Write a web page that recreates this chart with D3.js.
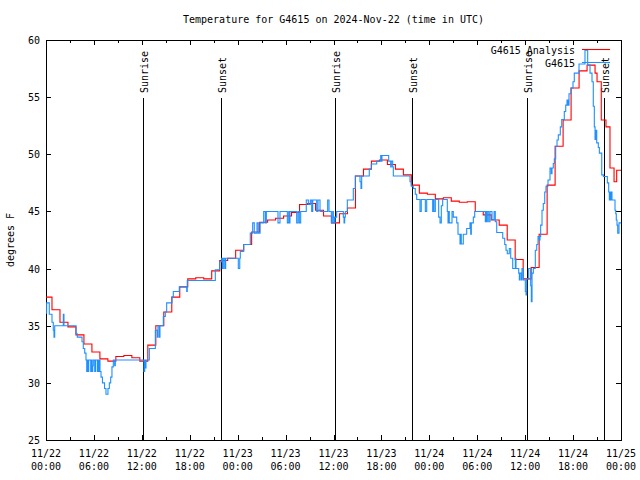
<!DOCTYPE html>
<html><head><meta charset="utf-8">
<script src="https://cdn.jsdelivr.net/npm/d3@7"></script>
<style>
body{margin:0;background:#fff}
svg{display:block}
text{font-family:"DejaVu Sans Mono","Liberation Mono",monospace;font-size:10px;fill:#000}
</style>
</head><body><svg id="chart" width="640" height="480"></svg>
<script>
const title = "Temperature for G4615 on 2024-Nov-22 (time in UTC)";
const yLabel = "degrees F";
const yTicks = [25, 30, 35, 40, 45, 50, 55, 60];
const xTickHours = [0, 6, 12, 18, 24, 30, 36, 42, 48, 54, 60, 66, 72];
const xTickDates = ["11/22","11/22","11/22","11/22","11/23","11/23","11/23","11/23","11/24","11/24","11/24","11/24","11/25"];
const xTickTimes = ["00:00","06:00","12:00","18:00","00:00","06:00","12:00","18:00","00:00","06:00","12:00","18:00","00:00"];
const xMinorHours = [3, 9, 15, 21, 27, 33, 39, 45, 51, 57, 63, 69];
const sunEvents = ["Sunrise","Sunset","Sunrise","Sunset","Sunrise","Sunset"];
const sunHours = [12.15, 21.91, 36.19, 45.83, 60.23, 69.87];
const seriesNames = ["G4615 Analysis", "G4615"];
const seriesColors = ["#ff0000", "#1e90ff"];

// Analysis (red): hours since 11/22 00:00 UTC, degrees F
const redTimes = [0, 0.75, 1.75, 2.75, 3.75, 4.75, 5.75, 6.75, 7.75, 8.75,
  9.75, 10.75, 11.75, 12.75, 13.75, 14.75, 15.75, 16.75, 17.75, 18.75,
  19.75, 20.75, 21.75, 22.75, 23.75, 24.75, 25.75, 26.75, 27.75, 28.75,
  29.75, 30.75, 31.75, 32.75, 33.75, 34.75, 35.75, 36.75, 37.75, 38.75,
  39.75, 40.75, 41.75, 42.75, 43.75, 44.75, 45.75, 46.75, 47.75, 48.75,
  49.75, 50.75, 51.75, 52.75, 53.75, 54.75, 55.75, 56.75, 57.75, 58.75,
  59.75, 60.75, 61.75, 62.75, 63.75, 64.75, 65.75, 66.75, 67.75, 68.75,
  69.0, 69.53, 70.12, 70.62, 71.13, 71.46];
const redTemps = [37.5, 36.4, 35.3, 34.9, 34.2, 33.4, 32.7, 32.1, 31.9, 32.3,
  32.4, 32.2, 31.9, 33.3, 35.0, 36.2, 37.5, 38.4, 39.1, 39.2,
  39.1, 39.8, 40.7, 40.9, 41.6, 42.1, 43.2, 44.05, 44.25, 44.4,
  44.6, 44.9, 45.6, 45.7, 45.1, 44.6, 44.0, 44.8, 45.3, 48.1,
  48.7, 49.4, 49.5, 49.1, 48.7, 48.2, 47.3, 46.6, 46.5, 46.1,
  46.2, 45.9, 45.8, 45.85, 45.0, 44.7, 44.25, 43.8, 42.5, 40.8,
  39.1, 40.1, 43.0, 47.3, 50.7, 53.0, 55.8, 57.3, 57.8, 57.1,
  56.35, 53.0, 52.4, 48.8, 47.6, 48.6];

// Observations (blue): hours since 11/22 00:00 UTC, degrees F
const blueTimes = [0.00,0.08,0.41,0.75,0.91,1.00,1.09,2.17,2.25,3.76,
  3.92,4.51,4.67,4.85,5.01,5.10,5.18,5.26,5.35,5.60,
  5.68,5.76,5.85,5.92,6.10,6.19,6.42,6.51,6.60,6.67,
  6.76,6.89,7.07,7.33,7.51,7.76,7.93,8.10,8.26,8.43,
  8.60,8.68,12.27,12.36,12.43,12.52,12.94,13.69,13.94,14.02,
  14.19,14.27,14.69,14.94,15.11,15.78,15.94,16.69,17.62,17.69,
  21.20,21.75,22.00,22.08,22.20,22.38,22.50,24.08,24.26,24.33,
  24.76,25.58,25.88,26.08,26.42,26.58,26.80,27.26,27.46,27.59,
  29.05,29.30,30.22,30.39,30.47,30.55,31.39,31.56,31.72,31.89,
  32.59,32.85,33.10,33.27,33.40,33.90,34.06,34.31,35.27,35.44,
  35.73,35.90,35.98,36.06,36.19,36.40,37.23,37.32,37.40,37.48,
  37.73,38.48,38.73,39.32,39.44,39.53,40.48,40.73,41.41,41.91,
  41.99,42.07,42.91,43.16,43.24,43.41,43.49,45.58,45.74,45.99,
  46.24,46.42,46.83,46.99,47.50,47.67,48.42,48.50,48.58,48.75,
  49.17,49.34,49.50,49.67,50.25,50.34,50.42,50.50,50.84,51.00,
  51.43,51.59,51.84,51.93,52.00,52.25,52.68,53.09,53.18,53.26,
  53.51,53.68,55.01,55.10,55.18,55.26,55.44,55.60,55.85,56.11,
  56.26,56.44,57.19,57.44,57.60,57.76,58.01,58.19,58.44,58.77,
  58.85,59.19,59.27,59.35,59.52,59.60,59.77,60.02,60.11,60.19,
  60.44,60.69,60.77,60.86,61.02,61.27,61.45,61.61,61.77,61.86,
  61.94,62.11,62.27,62.45,62.61,62.86,63.11,63.27,63.36,63.52,
  63.65,63.82,63.99,64.15,64.40,64.58,64.90,65.08,65.24,65.36,
  65.49,65.74,65.99,66.15,66.74,67.49,67.83,68.12,68.37,68.53,
  68.66,68.75,68.83,68.96,69.16,69.29,69.59,69.79,70.29,70.46,
  70.54,70.62,70.71,70.79,70.87,71.25,71.34,71.41,71.50,71.59,
  71.75];
const blueTemps = [36.1,37.0,36.0,35.3,34.6,34.0,35.0,36.0,35.0,34.3,
  34.0,33.6,33.0,32.6,32.0,31.0,32.0,31.0,32.0,31.0,
  32.0,31.0,31.5,32.0,31.0,32.0,31.0,32.0,31.0,32.0,
  31.0,30.5,30.0,29.5,29.0,29.5,30.0,30.5,31.4,32.0,
  31.5,32.0,31.0,32.0,31.3,32.0,33.0,34.6,34.0,35.0,
  34.0,35.0,35.8,36.2,37.0,37.5,38.0,38.4,38.0,38.95,
  39.9,40.6,40.9,40.0,40.9,40.0,40.9,40.0,40.9,41.5,
  42.1,43.1,44.0,43.1,44.0,43.1,44.0,45.0,44.0,45.0,
  44.0,45.0,44.0,45.0,44.0,45.0,44.0,45.0,44.0,45.0,
  46.0,45.6,46.0,45.0,46.0,45.0,46.0,45.0,46.0,45.0,
  44.0,45.0,44.5,44.0,44.5,45.0,44.5,44.0,44.5,45.0,
  46.0,47.0,48.1,47.6,47.0,48.1,48.7,49.15,49.4,49.9,
  49.4,49.9,49.4,48.9,49.4,48.9,48.1,47.6,47.2,47.0,
  46.5,46.05,45.0,46.05,45.0,46.05,45.0,46.05,45.0,46.05,
  44.5,44.0,45.5,46.05,45.0,44.0,45.0,44.0,45.0,44.5,
  44.0,43.0,42.15,43.0,42.15,43.0,43.5,44.0,43.0,44.0,
  44.5,45.0,44.1,45.0,44.1,45.0,44.1,45.0,44.3,45.0,
  44.1,43.15,42.65,42.1,41.6,41.3,41.75,40.9,40.0,40.9,
  40.0,39.6,39.0,39.6,39.0,40.0,39.0,38.0,37.7,39.1,
  40.0,38.5,37.1,39.6,40.0,41.6,42.1,42.8,42.5,42.8,
  43.8,45.1,45.7,46.7,47.2,47.75,48.8,48.3,48.8,49.2,
  49.6,50.7,51.25,51.7,52.4,53.05,53.75,54.3,54.75,54.3,
  55.3,55.8,56.35,57.1,57.9,59.1,57.8,57.1,56.35,54.2,
  52.4,51.3,52.1,51.0,50.6,50.1,48.2,48.05,47.5,46.7,
  46.0,46.7,46.0,46.7,46.0,45.1,44.8,44.25,43.8,43.1,
  44.0];

const W = 640, H = 480;
const plot = {left: 46, right: 621, top: 40, bottom: 440};
const svg = d3.select("#chart");

const x = d3.scaleLinear().domain([0, 72]).range([plot.left, plot.right]);
const y = d3.scaleLinear().domain([25, 60]).range([plot.bottom, plot.top]);

svg.append("rect").attr("width", W).attr("height", H).attr("fill", "#fff");

svg.append("defs").append("clipPath").attr("id", "clip")
  .append("rect").attr("x", plot.left).attr("y", plot.top - 12)
  .attr("width", plot.right - plot.left).attr("height", plot.bottom - plot.top + 12);

// title
svg.append("text").attr("x", (plot.left + plot.right) / 2).attr("y", 23)
  .attr("text-anchor", "middle").text(title);

// y label
svg.append("text").attr("transform", `translate(14,${(plot.top + plot.bottom) / 2}) rotate(-90)`)
  .attr("text-anchor", "middle").text(yLabel);

const axisG = svg.append("g").attr("stroke", "#000").attr("stroke-width", 1).attr("shape-rendering", "crispEdges");

// y ticks (left and right, inward)
yTicks.forEach(v => {
  const yy = Math.round(y(v)) + 0.5;
  axisG.append("line").attr("x1", plot.left).attr("x2", plot.left + 5).attr("y1", yy).attr("y2", yy);
  axisG.append("line").attr("x1", plot.right - 5).attr("x2", plot.right).attr("y1", yy).attr("y2", yy);
  svg.append("text").attr("x", plot.left - 6).attr("y", y(v) + 4).attr("text-anchor", "end").text(v);
});

// x ticks major
xTickHours.forEach((h, i) => {
  const xx = Math.round(x(h)) + 0.5;
  axisG.append("line").attr("x1", xx).attr("x2", xx).attr("y1", plot.bottom).attr("y2", plot.bottom - 5);
  axisG.append("line").attr("x1", xx).attr("x2", xx).attr("y1", plot.top).attr("y2", plot.top + 5);
  svg.append("text").attr("x", x(h)).attr("y", 457).attr("text-anchor", "middle").text(xTickDates[i]);
  svg.append("text").attr("x", x(h)).attr("y", 470).attr("text-anchor", "middle").text(xTickTimes[i]);
});
xMinorHours.forEach(h => {
  const xx = Math.round(x(h)) + 0.5;
  axisG.append("line").attr("x1", xx).attr("x2", xx).attr("y1", plot.bottom).attr("y2", plot.bottom - 3);
  axisG.append("line").attr("x1", xx).attr("x2", xx).attr("y1", plot.top).attr("y2", plot.top + 3);
});

// sunrise / sunset
sunHours.forEach((h, i) => {
  const xx = Math.round(x(h)) + 0.5;
  axisG.append("line").attr("x1", xx).attr("x2", xx).attr("y1", 98).attr("y2", plot.bottom);
  svg.append("text").attr("transform", `translate(${x(h) + 5},93) rotate(-90)`)
    .attr("text-anchor", "start").text(sunEvents[i]);
});

// series
const line = d3.line().x(d => x(d[0])).y(d => y(d[1])).curve(d3.curveStepAfter);
const redData = redTimes.map((t, i) => [t, redTemps[i]]);
redData.push([72, redTemps[redTemps.length - 1]]);
const blueData = blueTimes.map((t, i) => [t, blueTemps[i]]);
blueData.push([72, blueTemps[blueTemps.length - 1]]);

const dataG = svg.append("g").attr("clip-path", "url(#clip)");
dataG.append("path").datum(redData).attr("d", line).attr("fill", "none")
  .attr("stroke", seriesColors[0]).attr("stroke-width", 1.1);
dataG.append("path").datum(blueData).attr("d", line).attr("fill", "none")
  .attr("stroke", seriesColors[1]).attr("stroke-width", 1.1);

// legend
const legendY = [50, 63];
seriesNames.forEach((name, i) => {
  svg.append("text").attr("x", 575).attr("y", legendY[i] + 4).attr("text-anchor", "end").text(name);
  svg.append("line").attr("x1", 582).attr("x2", 610).attr("y1", legendY[i] - 0.5).attr("y2", legendY[i] - 0.5)
    .attr("stroke", seriesColors[i]).attr("stroke-width", 1.1);
});

// frame
axisG.append("rect").attr("x", plot.left + 0.5).attr("y", plot.top + 0.5)
  .attr("width", plot.right - plot.left).attr("height", plot.bottom - plot.top).attr("fill", "none");
</script>
</body></html>
